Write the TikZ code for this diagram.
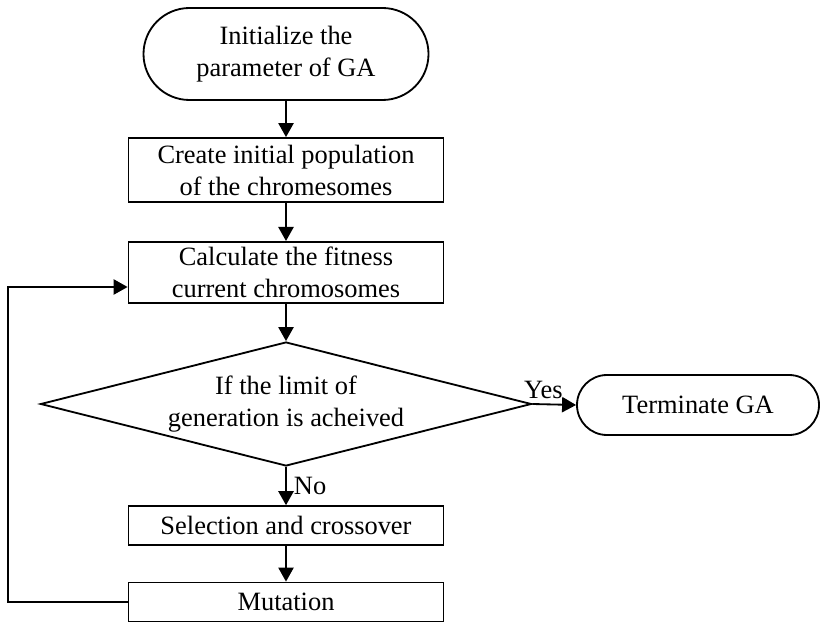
\documentclass[tikz,border=0pt]{standalone}
\usepackage{fontspec}
\setmainfont{Liberation Serif}
\usetikzlibrary{shapes.geometric,arrows.meta}

\tikzset{
  term/.style={draw, rectangle, align=center, inner sep=0pt},
  proc/.style={draw, rectangle, align=center, minimum width=7.875cm, inner sep=0pt},
  dec/.style={draw, diamond, shape aspect=3.96, align=center, minimum width=12.275cm, minimum height=3.1cm, inner sep=0pt},
  arr/.style={-{Triangle[length=0.35cm,width=0.38cm]}}
}

\begin{document}
\begin{tikzpicture}[line width=1.3pt, font=\fontsize{18.8}{22.8}\selectfont]
  \useasboundingbox (0,0) rectangle (20.5,15.55);
  \node[term, minimum width=7.125cm, minimum height=2.3cm, rounded corners=1.15cm] (init) at (7.15,14.2) {Initialize the\\parameter of GA};
  \node[proc, minimum height=1.6cm] (create) at (7.15,11.3) {Create initial population\\of the chromesomes};
  \node[proc, minimum height=1.525cm] (fitness) at (7.15,8.74) {Calculate the fitness\\current chromosomes};
  \node[dec] (limit) at (7.15,5.45) {If the limit of\\generation is acheived};
  \node[term, minimum width=6.05cm, minimum height=1.5cm, rounded corners=0.75cm] (stop) at (17.45,5.425) {Terminate GA};
  \node[proc, minimum height=0.975cm] (select) at (7.15,2.41) {Selection and crossover};
  \node[proc, minimum height=0.975cm] (mutate) at (7.15,0.5) {Mutation};

  \draw[arr] (init) -- (create);
  \draw[arr] (create) -- (fitness);
  \draw[arr] (fitness) -- (limit);
  \draw[arr] (limit.east) -- node[above, pos=0.25, inner sep=3pt] {Yes} (stop.west);
  \draw[arr] (limit.south) -- node[right, inner sep=5pt] {No} (select.north);
  \draw[arr] (select) -- (mutate);

  % loop back to the fitness step
  \coordinate (loop) at (0.2,8.375);
  \draw[arr] (mutate.west) -| (loop) -- (loop -| fitness.west);
\end{tikzpicture}
\end{document}
